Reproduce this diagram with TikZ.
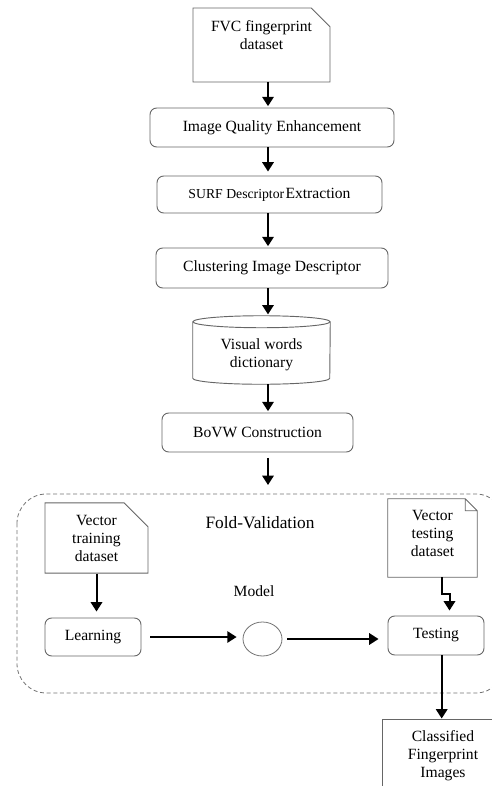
\documentclass[tikz,border=0pt]{standalone}
\usepackage{fontspec}
\setmainfont{Liberation Serif}
\usepackage{tikz}
\usetikzlibrary{arrows.meta,shapes.misc,shapes.geometric}

% text moved up or down inside its box
\newcommand{\shifted}[2]{\raisebox{#1}[\height][\depth]{\begin{tabular}{@{}c@{}}#2\end{tabular}}}

\begin{document}
\begin{tikzpicture}[x=0.75pt,y=-0.75pt,>={Triangle[length=7pt,width=8.5pt]},
                    font=\fontsize{11.7}{13.5}\selectfont,
                    every node/.style={inner sep=0pt,align=center},
                    block/.style={draw=black!60,line width=0.7pt,rounded corners=5pt},
                    datafile/.style={draw=black!60,line width=0.7pt,chamfered rectangle,
                                     chamfered rectangle corners=north east,
                                     chamfered rectangle xsep=7pt,chamfered rectangle ysep=7pt},
                    flow/.style={->,line width=1.5pt,shorten >=1pt}]

  \useasboundingbox (0,0) rectangle (492,786);

  \coordinate (spine) at (268,0);
  \coordinate (tx) at (441.7,0);
  \coordinate (tj) at (449.5,0);

  % main column
  \node[datafile,minimum width=102.75pt,minimum height=55.5pt] (fvc) at (261.5,45)
       {\shifted{6pt}{FVC fingerprint\\dataset}};
  \node[block,minimum width=183pt,minimum height=29.25pt] (enh) at (272,127.5)
       {Image Quality Enhancement};
  \node[block,minimum width=168.75pt,minimum height=27.75pt] (surf) at (269.5,194.5)
       {{\fontsize{10.3}{12}\selectfont SURF Descriptor}\hspace{1pt}Extraction};
  \node[block,minimum width=174pt,minimum height=30pt] (clus) at (272,268)
       {Clustering Image Descriptor};
  \node[minimum width=102.75pt,minimum height=51pt] (dict) at (261.5,350)
       {\shifted{-4pt}{Visual words\\dictionary}};
  \node[block,minimum width=143.25pt,minimum height=29.25pt] (bovw) at (257.5,432.5)
       {BoVW Construction};
  \coordinate (foldin) at (268,485);

  % cylinder round the dictionary
  \draw[draw=black!60,line width=0.7pt] ([yshift=-4.5pt]dict.north) ellipse (51.4pt and 4.5pt);
  \draw[draw=black!60,line width=0.7pt] ([yshift=-4.5pt]dict.north west)
       -- ([yshift=4.5pt]dict.south west) arc (180:360:51.375pt and 4.5pt)
       -- ([yshift=-4.5pt]dict.north east);

  % fold validation
  \draw[draw=black!55,line width=0.6pt,dash pattern=on 3pt off 2pt,rounded corners=22pt]
       (17,494) rectangle (505,693);
  \node[font=\fontsize{13}{15}\selectfont] (fold) at (260,523) {Fold-Validation};
  \node[datafile,minimum width=77.25pt,minimum height=52.5pt,
        chamfered rectangle xsep=9pt,chamfered rectangle ysep=9pt] (train) at (96.5,538)
       {Vector\\training\\dataset};
  \node[minimum width=66.75pt,minimum height=58.5pt] (test) at (432.5,538)
       {\shifted{2pt}{Vector\\testing\\dataset}};
  \draw[draw=black!60,line width=0.7pt] (test.south west) -- (test.north west)
       -- ([xshift=-9pt]test.north east) -- ([yshift=-9pt]test.north east)
       -- (test.south east) -- cycle
       ([xshift=-9pt]test.north east) -- ([xshift=-9pt,yshift=-9pt]test.north east)
       -- ([yshift=-9pt]test.north east);
  \node[block,minimum width=72pt,minimum height=28.5pt] (learn) at (93,637) {Learning};
  \node[draw=black!55,line width=0.6pt,ellipse,minimum width=29.25pt,minimum height=25.5pt]
       (model) at (262.5,639) {};
  \node (modeltxt) at (254,591) {Model};
  \node[block,minimum width=72pt,minimum height=29.25pt] (testing) at (436,635.5) {Testing};
  \node[draw=black!60,line width=0.7pt,minimum width=91.5pt,minimum height=54.75pt]
       (class) at (443,755.5) {Classified\\Fingerprint\\Images};

  % connectors
  \draw[flow] (fvc.south -| spine) -- (enh.north -| spine);
  \draw[flow,shorten >=3pt] (enh.south -| spine) -- (surf.north -| spine);
  \draw[flow] (surf.south -| spine) -- (clus.north -| spine);
  \draw[flow] (clus.south -| spine) -- (dict.north -| spine);
  \draw[flow] (dict.south -| spine) -- (bovw.north -| spine);
  \draw[flow,shorten <=4pt,shorten >=0pt] (bovw.south -| spine) -- (foldin);
  \draw[flow,shorten >=4.5pt] (train.south) -- (learn.north -| train.south);
  \draw[flow,shorten <=6.75pt,shorten >=4.5pt] (learn.east) -- (learn.east -| model.west);
  \draw[flow,shorten <=3.75pt,shorten >=6.75pt] (model.east) -- (model.east -| testing.west);
  \draw[flow,shorten >=3.75pt] (test.south -| tx) -- ++(0,17) -| (testing.north -| tj);
  \draw[flow,shorten >=0pt] (testing.south -| tx) -- (class.north -| tx);
\end{tikzpicture}
\end{document}
